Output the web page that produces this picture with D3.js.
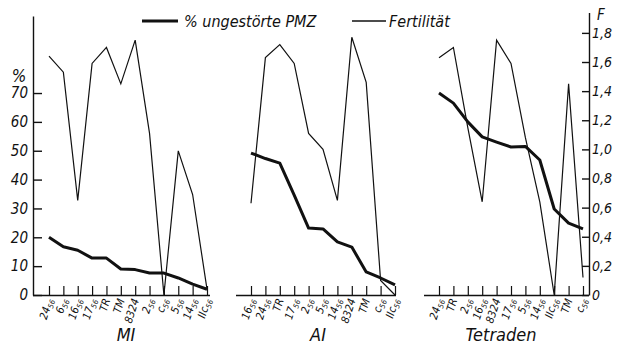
<!DOCTYPE html>
<html>
<head>
<meta charset="utf-8">
<script src="https://cdn.jsdelivr.net/npm/d3@7"></script>
<style>
  body { margin: 0; background: #fff; }
  svg { display: block; }
  text { font-family: "DejaVu Sans Condensed", "Liberation Sans Narrow", sans-serif; font-style: italic; fill: #111; }
</style>
</head>
<body>
<svg width="619" height="347"></svg>
<script>
// strains per stage, ordered as in the figure (by falling % undisturbed PMC)
const miStrains = ['24', '6', '16', '17', 'TR', 'TM', '8324', '2', 'c', '5', '14', 'IIc'];
const miPmz = [20, 16.7, 15.5, 12.8, 12.8, 9, 8.8, 7.6, 7.6, 5.9, 3.8, 2];
const miFert = [1.64, 1.53, 0.65, 1.59, 1.70, 1.45, 1.75, 1.11, 0, 0.99, 0.69, 0.04];

const aiStrains = ['16', '24', 'TR', '17', '2', '5', '14', '8324', 'TM', 'c', 'IIc'];
const aiPmz = [49.2, 47.3, 45.7, 34.6, 23.2, 22.9, 18.4, 16.6, 8, 5.9, 3.5];
const aiFert = [0.63, 1.63, 1.72, 1.59, 1.11, 1.0, 0.65, 1.77, 1.46, 0.1, 0];

const teStrains = ['24', 'TR', '2', '16', '8324', '17', '5', '14', 'IIc', 'TM', 'c'];
const tePmz = [70, 66.5, 60, 54.8, 53, 51.3, 51.5, 46.8, 29.8, 24.9, 22.9];
const teFert = [1.63, 1.70, 1.15, 0.64, 1.75, 1.59, 1.08, 0.64, 0, 1.45, 0.12];

const pctTicks = [0, 10, 20, 30, 40, 50, 60, 70];
const fTicks = [0, 0.2, 0.4, 0.6, 0.8, 1.0, 1.2, 1.4, 1.6, 1.8];
const noSub = ['TR', 'TM', '8324'];

const svg = d3.select('svg');
const base = 295;

const yPct = d3.scaleLinear().domain([0, 96.7]).range([base, 16]);
const yF = d3.scaleLinear().domain([0, 1.94]).range([base, 12.5]);

// left % axis
const gl = svg.append('g').attr('transform', 'translate(33,0)')
  .call(d3.axisLeft(yPct).tickValues(pctTicks).tickSize(-9).tickSizeOuter(0).tickPadding(5));
gl.select('.domain').attr('stroke', '#111').attr('stroke-width', 1.4);
gl.selectAll('.tick line').attr('stroke', '#111').attr('stroke-width', 1.4);
gl.selectAll('.tick text').attr('font-size', 15).attr('fill', '#111');
gl.append('text').attr('x', -14).attr('y', 82).attr('text-anchor', 'middle')
  .attr('font-size', 17).text('%');

// right F axis
const gr = svg.append('g').attr('transform', 'translate(589,0)')
  .call(d3.axisRight(yF).tickValues(fTicks).tickSize(-7).tickSizeOuter(0).tickPadding(3)
    .tickFormat(d => d === 0 ? '0' : d3.format('.1f')(d).replace('.', ',')));
gr.select('.domain').attr('stroke', '#111').attr('stroke-width', 1.4);
gr.selectAll('.tick line').attr('stroke', '#111').attr('stroke-width', 1.4);
gr.selectAll('.tick text').attr('font-size', 14).attr('fill', '#111');
gr.append('text').attr('x', 12).attr('y', 20).attr('text-anchor', 'middle')
  .attr('font-size', 15).text('F');

const panels = [
  { name: 'MI', strains: miStrains, pmz: miPmz, fert: miFert, range: [49, 207], start: 33, end: 210, lx: 126 },
  { name: 'AI', strains: aiStrains, pmz: aiPmz, fert: aiFert, range: [251, 395], start: 236, end: 396, lx: 318 },
  { name: 'Tetraden', strains: teStrains, pmz: tePmz, fert: teFert, range: [439, 583], start: 424, end: 589, lx: 501 }
];

panels.forEach(p => {
  const x = d3.scalePoint().domain(d3.range(p.strains.length)).range(p.range);
  const g = svg.append('g');

  // baseline with upward ticks
  g.append('line').attr('x1', p.start).attr('x2', p.end).attr('y1', base + 0.5).attr('y2', base + 0.5)
    .attr('stroke', '#111').attr('stroke-width', 1.4);
  const ga = g.append('g').attr('transform', `translate(0,${base})`)
    .call(d3.axisBottom(x).tickSize(-9).tickSizeOuter(0).tickFormat(''));
  ga.select('.domain').remove();
  ga.selectAll('.tick line').attr('stroke', '#111').attr('stroke-width', 1.2);

  // rotated strain labels
  const lab = g.selectAll('text.cat').data(p.strains).enter().append('text')
    .attr('class', 'cat')
    .attr('text-anchor', 'end')
    .attr('font-size', 11)
    .attr('transform', (d, i) => `translate(${x(i) + 4},${base + 5}) rotate(-72)`);
  lab.append('tspan').text(d => d);
  lab.filter(d => !noSub.includes(d)).append('tspan')
    .attr('font-size', 7.5).attr('dy', 2.5).text('56');

  // fertility (thin) and % undisturbed PMC (thick)
  g.append('path').datum(p.fert)
    .attr('fill', 'none').attr('stroke', '#111').attr('stroke-width', 1.2)
    .attr('d', d3.line().x((d, i) => x(i)).y(d => yF(d)));
  g.append('path').datum(p.pmz)
    .attr('fill', 'none').attr('stroke', '#111').attr('stroke-width', 3).attr('stroke-linejoin', 'round')
    .attr('d', d3.line().x((d, i) => x(i)).y(d => yPct(d)));

  g.append('text').attr('x', p.lx).attr('y', 341).attr('text-anchor', 'middle')
    .attr('font-size', 18).text(p.name);
});

// legend
const lg = svg.append('g');
lg.append('line').attr('x1', 142).attr('x2', 178).attr('y1', 21).attr('y2', 21)
  .attr('stroke', '#111').attr('stroke-width', 3.2);
lg.append('text').attr('x', 184).attr('y', 27).attr('font-size', 16).text('% ungestörte PMZ');
lg.append('line').attr('x1', 352).attr('x2', 386).attr('y1', 21).attr('y2', 21)
  .attr('stroke', '#111').attr('stroke-width', 1.3);
lg.append('text').attr('x', 389).attr('y', 27).attr('font-size', 16).text('Fertilität');
</script>
</body>
</html>
